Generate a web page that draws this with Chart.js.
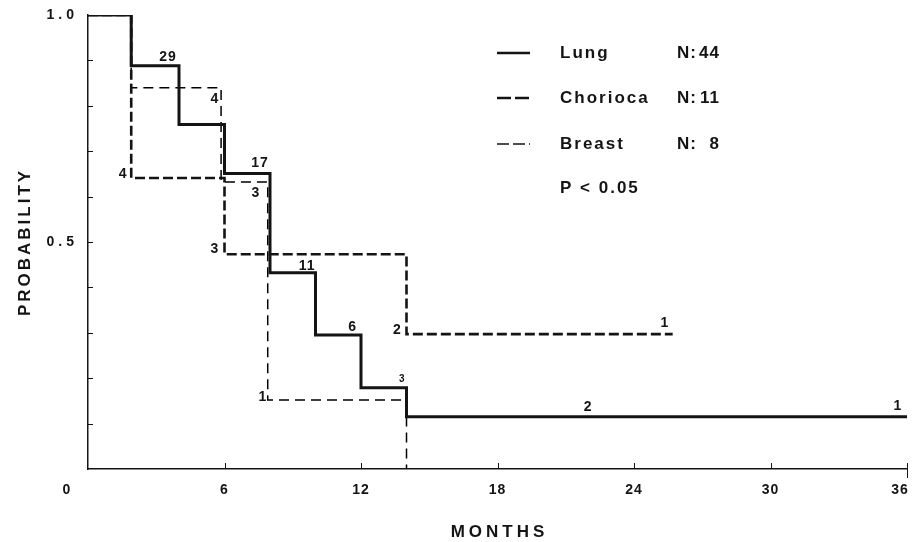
<!DOCTYPE html>
<html>
<head>
<meta charset="utf-8">
<script src="https://cdn.jsdelivr.net/npm/chart.js@4.4.1/dist/chart.umd.min.js"></script>
<style>
  body { margin: 0; background: #fff; }
  #km { display: block; }
</style>
</head>
<body>
<canvas id="km" width="913" height="542"></canvas>
<script>
// survival steps: month where the step starts, probability after it
const lungMonths = [0, 1.9, 4, 6, 8, 10, 12, 14, 36];
const lungProb = [1, 0.888, 0.759, 0.651, 0.432, 0.295, 0.179, 0.115, 0.115];
const chorioMonths = [0, 1.9, 6, 14, 25.7];
const chorioProb = [1, 0.641, 0.473, 0.297, 0.297];
const breastMonths = [0, 1.9, 5.85, 7.9, 14];
const breastProb = [1, 0.84, 0.632, 0.152, 0];

const seriesNames = ['Lung', 'Chorioca', 'Breast'];
const seriesN = ['44', '11', '8'];
const pValueText = 'P < 0.05';

const xTicks = [6, 12, 18, 24, 30, 36];
const yMinor = [0.1, 0.2, 0.3, 0.4, 0.5, 0.6, 0.7, 0.8, 0.9];
const yLabels = [[1, '1.0'], [0.5, '0.5']];

// numbers at risk written next to the curves: [month, probability, text]
const lungRisk = [[3.52, 0.907, '29'], [7.56, 0.674, '17'], [9.63, 0.447, '11'], [11.63, 0.313, '6'], [21.98, 0.137, '2'], [35.6, 0.139, '1']];
const lungRiskSmall = [[13.82, 0.198, '3']];
const chorioRisk = [[1.55, 0.65, '4'], [5.58, 0.485, '3'], [13.6, 0.306, '2'], [25.36, 0.322, '1']];
const breastRisk = [[5.58, 0.814, '4'], [7.38, 0.607, '3'], [7.69, 0.159, '1']];

const ink = '#141414';

function toPoints(months, probs) {
  return months.map((m, i) => ({ x: m, y: probs[i] }));
}

const kmDecor = {
  id: 'kmDecor',
  afterDraw(chart) {
    const { ctx, scales: { x, y } } = chart;
    ctx.save();
    ctx.fillStyle = ink;
    ctx.strokeStyle = ink;

    // inward ticks on the probability axis
    ctx.lineWidth = 1;
    yMinor.forEach(v => {
      const py = Math.round(y.getPixelForValue(v)) + 0.5;
      ctx.beginPath();
      ctx.moveTo(x.left, py);
      ctx.lineTo(x.left + 5, py);
      ctx.stroke();
    });
    xTicks.forEach(v => {
      const px = Math.round(x.getPixelForValue(v)) + 0.5;
      ctx.beginPath();
      ctx.moveTo(px, y.bottom - 6);
      ctx.lineTo(px, v === 36 ? y.bottom + 9 : y.bottom);
      ctx.stroke();
    });

    // tick labels
    ctx.font = 'bold 14px "Liberation Sans", Arial, sans-serif';
    ctx.letterSpacing = '4px';
    ctx.textAlign = 'right';
    ctx.textBaseline = 'middle';
    yLabels.forEach(([v, t]) => ctx.fillText(t, x.left - 10, y.getPixelForValue(v)));
    ctx.letterSpacing = '1px';
    ctx.textAlign = 'center';
    xTicks.forEach(v => {
      const px = x.getPixelForValue(v) - (v === 36 ? 7 : 0);
      ctx.fillText(String(v), px, y.bottom + 21);
    });
    ctx.fillText('0', x.left - 21, y.bottom + 21);

    // axis titles
    ctx.font = 'bold 17px "Liberation Sans", Arial, sans-serif';
    ctx.letterSpacing = '4px';
    ctx.fillText('MONTHS', (x.left + x.right) / 2 + 2, 532);
    ctx.save();
    ctx.translate(25, (y.top + y.bottom) / 2);
    ctx.rotate(-Math.PI / 2);
    ctx.letterSpacing = '3px';
    ctx.fillText('PROBABILITY', 0, 0);
    ctx.restore();

    // numbers at risk
    ctx.letterSpacing = '1px';
    ctx.font = 'bold 14px "Liberation Sans", Arial, sans-serif';
    [lungRisk, chorioRisk, breastRisk].forEach(list => {
      list.forEach(([m, p, t]) => ctx.fillText(t, x.getPixelForValue(m), y.getPixelForValue(p)));
    });
    ctx.font = 'bold 10px "Liberation Sans", Arial, sans-serif';
    lungRiskSmall.forEach(([m, p, t]) => ctx.fillText(t, x.getPixelForValue(m), y.getPixelForValue(p)));

    // legend block
    const rows = [53, 98, 144];
    const styles = [
      { w: 2.6, dash: [] },
      { w: 2.6, dash: [14, 4] },
      { w: 1.5, dash: [12, 4] }
    ];
    ctx.textAlign = 'left';
    ctx.font = 'bold 17px "Liberation Sans", Arial, sans-serif';
    rows.forEach((ry, i) => {
      ctx.lineWidth = styles[i].w;
      ctx.setLineDash(styles[i].dash);
      ctx.beginPath();
      ctx.moveTo(497, ry);
      ctx.lineTo(530, ry);
      ctx.stroke();
      ctx.setLineDash([]);
      ctx.letterSpacing = '2px';
      ctx.fillText(seriesNames[i], 560, ry);
      ctx.letterSpacing = '1px';
      ctx.fillText('N:', 677, ry);
      ctx.textAlign = 'right';
      ctx.fillText(seriesN[i], 720, ry);
      ctx.textAlign = 'left';
    });
    ctx.letterSpacing = '2px';
    ctx.fillText(pValueText, 560, 188);
    ctx.restore();
  }
};

new Chart(document.getElementById('km'), {
  type: 'line',
  data: {
    datasets: [
      {
        label: seriesNames[0],
        data: toPoints(lungMonths, lungProb),
        borderColor: ink,
        borderWidth: 3,
        stepped: true,
        pointRadius: 0
      },
      {
        label: seriesNames[1],
        data: toPoints(chorioMonths, chorioProb),
        borderColor: ink,
        borderWidth: 2.6,
        borderDash: [10, 4],
        stepped: true,
        pointRadius: 0
      },
      {
        label: seriesNames[2],
        data: toPoints(breastMonths, breastProb),
        borderColor: '#000',
        borderWidth: 1.5,
        borderDash: [10, 6],
        stepped: true,
        pointRadius: 0
      }
    ]
  },
  options: {
    responsive: false,
    animation: false,
    devicePixelRatio: 1,
    layout: { padding: { top: 15, right: 6, left: 0, bottom: 0 } },
    plugins: {
      legend: { display: false },
      tooltip: { enabled: false }
    },
    scales: {
      x: {
        type: 'linear',
        min: 0,
        max: 36,
        grid: { display: false },
        ticks: { display: false },
        border: { display: true, color: ink, width: 1.5 },
        afterFit: scale => { scale.height = 73; scale.paddingLeft = 0; scale.paddingRight = 0; }
      },
      y: {
        min: 0,
        max: 1,
        grid: { display: false },
        ticks: { display: false },
        border: { display: true, color: ink, width: 1.5 },
        afterFit: scale => { scale.width = 88; scale.paddingTop = 0; scale.paddingBottom = 0; }
      }
    }
  },
  plugins: [kmDecor]
});
</script>
</body>
</html>
